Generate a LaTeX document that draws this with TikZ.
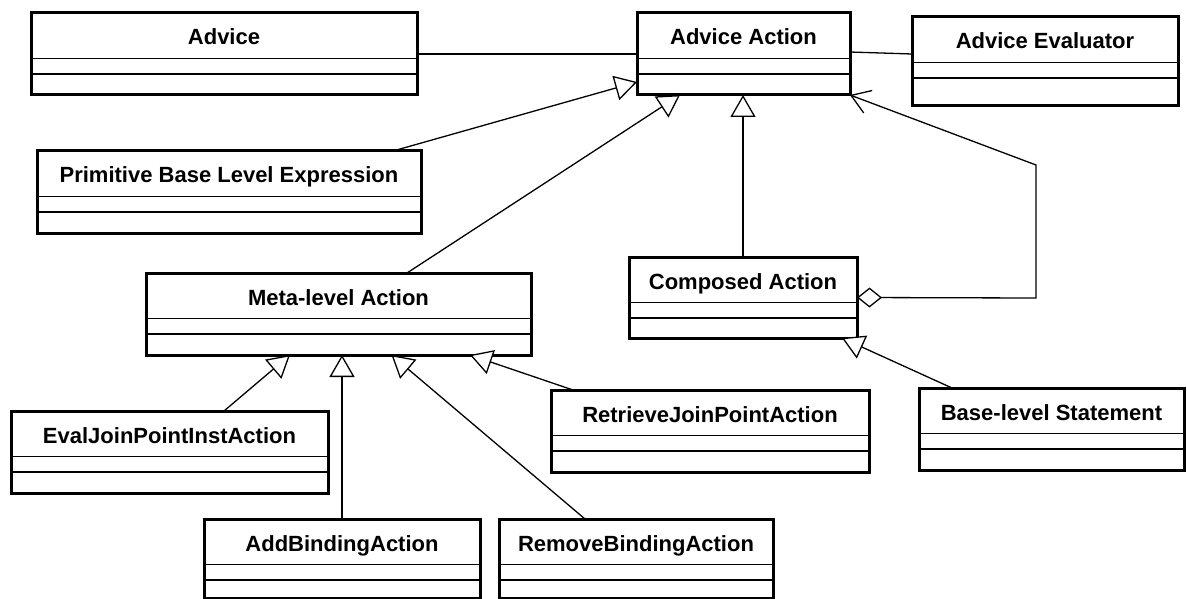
\documentclass[tikz,border=0pt]{standalone}
\usepackage{fontspec}
\setmainfont{Liberation Sans}
\usetikzlibrary{arrows.meta,calc}

\tikzset{
  umlbox/.style={draw, line width=3pt, anchor=north west, inner sep=0pt, outer sep=0pt},
  umltitle/.style={anchor=base, inner sep=0pt, font=\bfseries\fontsize{22}{26}\selectfont},
  umlsep/.style={line width=1.3pt},
  link/.style={line width=1.3pt},
  gen/.style={link, -{Triangle[open, length=22pt, width=25pt, fill=white, line width=1.3pt]}},
  aggr/.style={link, {Diamond[open, length=25pt, width=20pt, fill=white, line width=1.3pt]}-{Straight Barb[length=18pt, width=24pt, line width=1.3pt]}},
}

% class box: name, left, top, width, height, title
\newcommand\umlclass[6]{%
  \node[umlbox, minimum width=#4pt, minimum height=#5pt] (#1) at (#2,#3) {};
  \node[umltitle] (#1-title) at ([yshift=-32pt]#1.north) {#6};
  \draw[umlsep] ([yshift=-45.5pt]#1.north west) -- ([yshift=-45.5pt]#1.north east);
  \draw[umlsep] ([yshift=-61pt]#1.north west) -- ([yshift=-61pt]#1.north east);
}

\begin{document}
\begin{tikzpicture}[x=1pt, y=-1pt]
  \fill[white] (0,0) rectangle (1187,599);
  \useasboundingbox (0,0) rectangle (1187,599);

  % classes
  \umlclass{advice}{31}{13}{386}{82}{Advice}
  \umlclass{action}{637}{13}{213}{82}{Advice Action}
  \umlclass{evaluator}{912}{17}{266}{89}{Advice Evaluator}
  \umlclass{primitive}{37}{151}{384}{82}{Primitive Base Level Expression}
  \umlclass{meta}{146}{273}{385}{82}{Meta-level Action}
  \umlclass{composed}{629}{257}{228}{81}{Composed Action}
  \umlclass{evaljp}{11}{411}{317}{82}{EvalJoinPointInstAction}
  \umlclass{retrieve}{551}{390}{318}{82}{RetrieveJoinPointAction}
  \umlclass{basestmt}{919}{388}{265}{82}{Base-level Statement}
  \umlclass{addbind}{204}{519}{276}{79}{AddBindingAction}
  \umlclass{removebind}{499}{519}{274}{79}{RemoveBindingAction}

  % associations
  \draw[link] (advice.east) -- (action.west);
  \draw[link] ([yshift=2pt]action.east) -- ([yshift=7.5pt]evaluator.west);

  % generalizations
  \draw[gen] ([xshift=164pt]primitive.north) -- ([yshift=-28pt]action.west);
  \draw[gen] ([xshift=68.5pt]meta.north) -- ([xshift=-63.5pt]action.south);
  \draw[gen] (composed.north) -- (composed.north |- action.south);
  \draw[gen] ([xshift=54.5pt]evaljp.north) -- ([xshift=-48.5pt]meta.south);
  \draw[gen] (addbind.north) -- (addbind.north |- meta.south);
  \draw[gen] ([xshift=-51pt]removebind.north) -- ([xshift=53pt]meta.south);
  \draw[gen] ([xshift=-137pt]retrieve.north) -- ([xshift=131.5pt]meta.south);
  \draw[gen] ([xshift=-99.5pt]basestmt.north) -- ([xshift=99pt]composed.south);

  % aggregation from the composed action back to the advice action
  \coordinate (bendlow) at (1036,298);
  \coordinate (bendhigh) at (1036,165);
  \draw[aggr] (composed.east) -- (bendlow) -- (bendhigh) -- (action.south east);
\end{tikzpicture}
\end{document}
